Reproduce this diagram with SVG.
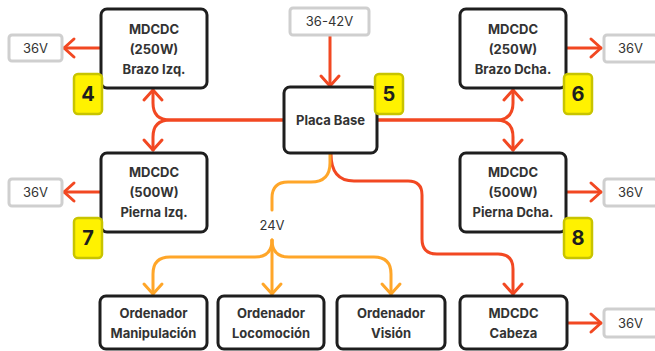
<svg xmlns="http://www.w3.org/2000/svg" width="655" height="351" viewBox="0 0 655 351">
  <defs>
    <marker id="arrRed" markerUnits="userSpaceOnUse" markerWidth="24" markerHeight="24" refX="0" refY="0" orient="auto" overflow="visible">
      <path d="M-10,-9 L0,0 L-10,9" fill="none" stroke="#f24822" stroke-width="3" stroke-linecap="round" stroke-linejoin="round"/>
    </marker>
    <marker id="arrOrange" markerUnits="userSpaceOnUse" markerWidth="24" markerHeight="24" refX="0" refY="0" orient="auto" overflow="visible">
      <path d="M-10,-9 L0,0 L-10,9" fill="none" stroke="#ffa629" stroke-width="3" stroke-linecap="round" stroke-linejoin="round"/>
    </marker>
  </defs>
  <style>
    .node { fill: #ffffff; stroke: #1e1e1e; stroke-width: 3; }
    .volt { fill: #ffffff; stroke: #cfcfcf; stroke-width: 3; }
    .badge { fill: #fff200; stroke: #c8c400; stroke-width: 2.5; }
    .lbl { font-family: Inter, "Liberation Sans", sans-serif; font-size: 13px; font-weight: 700; fill: #333333; text-anchor: middle; }
    .vtxt { font-family: Inter, "Liberation Sans", sans-serif; font-size: 13px; font-weight: 400; fill: #333333; text-anchor: middle; }
    .num { font-family: Inter, "Liberation Sans", sans-serif; font-size: 20px; font-weight: 700; fill: #1e1e1e; text-anchor: middle; }
    .red { fill: none; stroke: #f24822; stroke-width: 3; stroke-linecap: round; stroke-linejoin: round; }
    .orange { fill: none; stroke: #ffa629; stroke-width: 3; stroke-linecap: round; stroke-linejoin: round; }
  </style>
  <rect width="655" height="351" fill="#ffffff"/>

  <!-- connectors -->
  <g id="connectors">
    <!-- supply into the base board -->
    <path class="red" d="M330,36 V86" marker-end="url(#arrRed)"/>
    <!-- base board to left converters -->
    <path class="red" d="M284,120 H170 Q153,120 153,103 V90" marker-end="url(#arrRed)"/>
    <path class="red" d="M284,120 H170 Q153,120 153,137 V150" marker-end="url(#arrRed)"/>
    <!-- base board to right converters -->
    <path class="red" d="M377,120 H496 Q513,120 513,103 V90" marker-end="url(#arrRed)"/>
    <path class="red" d="M377,120 H496 Q513,120 513,137 V150" marker-end="url(#arrRed)"/>
    <!-- base board to head converter -->
    <path class="red" d="M331,154 Q331,181 354,181 H408 Q422,181 422,195 V239 Q422,254 437,254 H498 Q513,254 513,269 V294" marker-end="url(#arrRed)"/>
    <!-- 24V branch -->
    <path class="orange" d="M330,154 V163 Q330,182 311,182 H288 Q272,182 272,198 V210"/>
    <path class="orange" d="M272,240 V294" marker-end="url(#arrOrange)"/>
    <path class="orange" d="M272,240 Q272,257 255,257 H170 Q153,257 153,274 V294" marker-end="url(#arrOrange)"/>
    <path class="orange" d="M272,240 Q272,257 289,257 H374 Q391,257 391,274 V294" marker-end="url(#arrOrange)"/>
    <!-- converter outputs -->
    <path class="red" d="M100,48 H64" marker-end="url(#arrRed)"/>
    <path class="red" d="M100,192 H64" marker-end="url(#arrRed)"/>
    <path class="red" d="M566,48 H601" marker-end="url(#arrRed)"/>
    <path class="red" d="M566,192 H601" marker-end="url(#arrRed)"/>
    <path class="red" d="M567,323 H601" marker-end="url(#arrRed)"/>
  </g>

  <text class="vtxt" x="272" y="230">24V</text>

  <!-- supply -->
  <g id="supply">
    <rect class="volt" x="290" y="8" width="79" height="27" rx="3"/>
    <text class="vtxt" x="329.5" y="26">36-42V</text>
  </g>

  <!-- base board -->
  <g id="placa-base">
    <rect class="node" x="284" y="87" width="93" height="66" rx="6"/>
    <text class="lbl" x="330.5" y="125">Placa Base</text>
  </g>
  <g id="badge-5">
    <rect class="badge" x="375" y="74" width="28" height="40" rx="4"/>
    <text class="num" x="389" y="101">5</text>
  </g>

  <!-- left arm -->
  <g id="brazo-izq">
    <rect class="node" x="101" y="9" width="106" height="79" rx="6"/>
    <text class="lbl" x="154" y="34">MDCDC</text>
    <text class="lbl" x="154" y="54">(250W)</text>
    <text class="lbl" x="154" y="74">Brazo Izq.</text>
  </g>
  <g id="out-brazo-izq">
    <rect class="volt" x="9" y="35" width="53" height="26" rx="3"/>
    <text class="vtxt" x="35.5" y="53">36V</text>
  </g>
  <g id="badge-4">
    <rect class="badge" x="74" y="74" width="28" height="40" rx="4"/>
    <text class="num" x="88" y="101">4</text>
  </g>

  <!-- right arm -->
  <g id="brazo-dcha">
    <rect class="node" x="460" y="9" width="106" height="79" rx="6"/>
    <text class="lbl" x="513" y="34">MDCDC</text>
    <text class="lbl" x="513" y="54">(250W)</text>
    <text class="lbl" x="513" y="74">Brazo Dcha.</text>
  </g>
  <g id="out-brazo-dcha">
    <rect class="volt" x="604" y="35" width="53" height="27" rx="3"/>
    <text class="vtxt" x="630.5" y="53">36V</text>
  </g>
  <g id="badge-6">
    <rect class="badge" x="564" y="74" width="28" height="40" rx="4"/>
    <text class="num" x="578" y="101">6</text>
  </g>

  <!-- left leg -->
  <g id="pierna-izq">
    <rect class="node" x="101" y="153" width="106" height="79" rx="6"/>
    <text class="lbl" x="154" y="177">MDCDC</text>
    <text class="lbl" x="154" y="197">(500W)</text>
    <text class="lbl" x="154" y="217">Pierna Izq.</text>
  </g>
  <g id="out-pierna-izq">
    <rect class="volt" x="9" y="179" width="53" height="27" rx="3"/>
    <text class="vtxt" x="35.5" y="197">36V</text>
  </g>
  <g id="badge-7">
    <rect class="badge" x="74" y="218" width="28" height="40" rx="4"/>
    <text class="num" x="88" y="245">7</text>
  </g>

  <!-- right leg -->
  <g id="pierna-dcha">
    <rect class="node" x="460" y="153" width="106" height="79" rx="6"/>
    <text class="lbl" x="513" y="177">MDCDC</text>
    <text class="lbl" x="513" y="197">(500W)</text>
    <text class="lbl" x="513" y="217">Pierna Dcha.</text>
  </g>
  <g id="out-pierna-dcha">
    <rect class="volt" x="604" y="179" width="53" height="27" rx="3"/>
    <text class="vtxt" x="630.5" y="197">36V</text>
  </g>
  <g id="badge-8">
    <rect class="badge" x="564" y="218" width="28" height="40" rx="4"/>
    <text class="num" x="578" y="245">8</text>
  </g>

  <!-- computers -->
  <g id="ord-manipulacion">
    <rect class="node" x="100" y="296" width="107" height="53" rx="6"/>
    <text class="lbl" x="153.5" y="318">Ordenador</text>
    <text class="lbl" x="153.5" y="338">Manipulación</text>
  </g>
  <g id="ord-locomocion">
    <rect class="node" x="218" y="296" width="106" height="53" rx="6"/>
    <text class="lbl" x="271" y="318">Ordenador</text>
    <text class="lbl" x="271" y="338">Locomoción</text>
  </g>
  <g id="ord-vision">
    <rect class="node" x="337" y="296" width="108" height="53" rx="6"/>
    <text class="lbl" x="391" y="318">Ordenador</text>
    <text class="lbl" x="391" y="338">Visión</text>
  </g>

  <!-- head -->
  <g id="cabeza">
    <rect class="node" x="460" y="296" width="107" height="53" rx="6"/>
    <text class="lbl" x="513.5" y="318">MDCDC</text>
    <text class="lbl" x="513.5" y="338">Cabeza</text>
  </g>
  <g id="out-cabeza">
    <rect class="volt" x="604" y="309" width="53" height="28" rx="3"/>
    <text class="vtxt" x="630.5" y="328">36V</text>
  </g>
</svg>
